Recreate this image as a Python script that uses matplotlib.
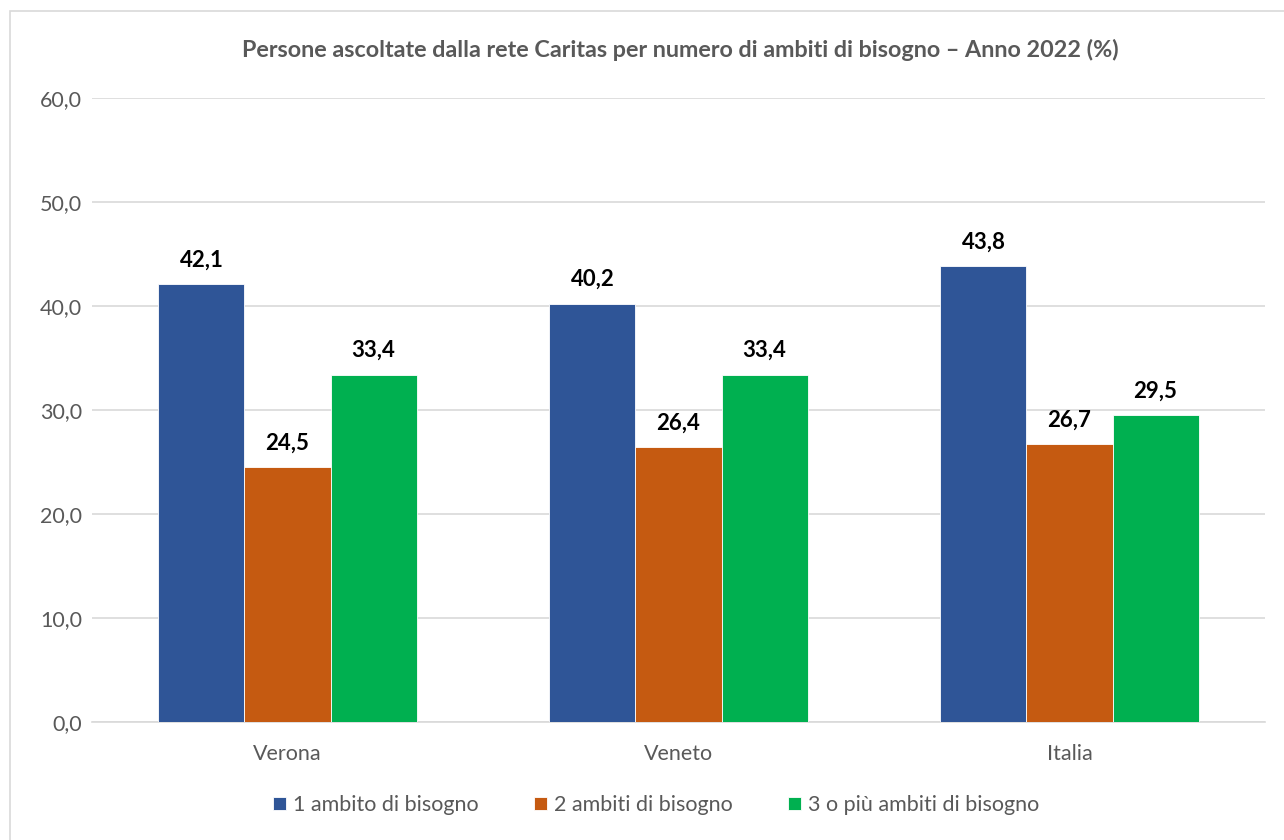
import matplotlib
matplotlib.use("Agg")
import matplotlib.pyplot as plt
import numpy as np
from matplotlib.patches import Rectangle

categories = ["Verona", "Veneto", "Italia"]
series_names = ["1 ambito di bisogno", "2 ambiti di bisogno", "3 o più ambiti di bisogno"]
one_need = [42.1, 40.2, 43.8]
two_needs = [24.5, 26.4, 26.7]
three_plus = [33.4, 33.4, 29.5]
yticks = [0, 10, 20, 30, 40, 50, 60]

colors = ["#2F5597", "#C55A11", "#00B050"]
plt.rcParams["font.family"] = ["Lato", "DejaVu Sans"]

fig = plt.figure(figsize=(12.84, 8.4), dpi=100)
ax = fig.add_axes([92 / 1284, 118 / 840, 1173 / 1284, 624 / 840])

# chart border
fig.patches.append(Rectangle((10 / 1284, -0.1), 1.2, (840 - 11) / 840 + 0.1,
                             transform=fig.transFigure, fill=False,
                             edgecolor="#D9D9D9", linewidth=1.2))

x = np.arange(len(categories))
w = 0.22
for i, (vals, name) in enumerate(zip([one_need, two_needs, three_plus], series_names)):
    pos = x + (i - 1) * w
    ax.bar(pos, vals, width=w, color=colors[i], label=name, edgecolor="white",
           linewidth=0.6, zorder=3)
    for px, v in zip(pos, vals):
        ax.annotate(f"{v:.1f}".replace(".", ","), (px, v), xytext=(0, 10),
                    textcoords="offset points", ha="center", va="bottom",
                    fontsize=16, fontweight="bold", color="black")

ax.set_xlim(-0.5, 2.5)
ax.set_ylim(0, 60)
ax.set_yticks(yticks)
ax.set_yticklabels([f"{t:.1f}".replace(".", ",") for t in yticks])
ax.set_xticks(x)
ax.set_xticklabels(categories)
ax.tick_params(axis="both", length=0, labelsize=15.5, colors="#595959")
ax.tick_params(axis="x", pad=16)
ax.tick_params(axis="y", pad=7)
ax.grid(axis="y", color="#D9D9D9", linewidth=1.2, zorder=0)
for s in ["top", "right", "left"]:
    ax.spines[s].set_visible(False)
ax.spines["bottom"].set_color("#D9D9D9")
ax.spines["bottom"].set_linewidth(1.2)

fig.text(680 / 1284, 1 - 50 / 840, "Persone ascoltate dalla rete Caritas per numero di ambiti di bisogno – Anno 2022 (%)",
         ha="center", va="center", fontsize=16.8, fontweight="bold", color="#595959")

fig.legend(loc="center", bbox_to_anchor=(656 / 1284, 1 - 805 / 840), ncol=3, frameon=False,
           fontsize=15.5, labelcolor="#595959", handlelength=0.6, handleheight=0.6,
           handletextpad=0.3, columnspacing=2.6)

fig.savefig("out.png")
plt.close(fig)
